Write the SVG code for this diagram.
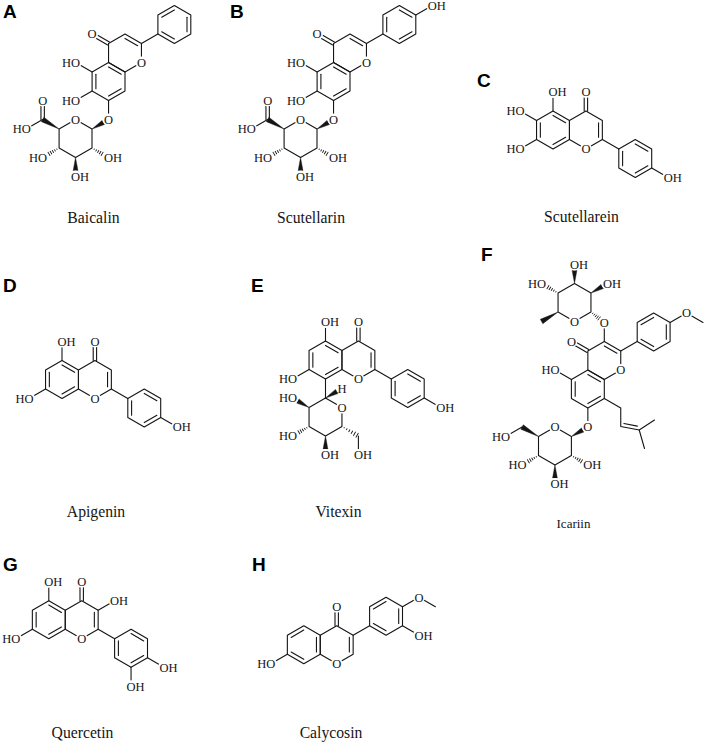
<svg xmlns="http://www.w3.org/2000/svg" width="706" height="744" viewBox="0 0 706 744">
<style>
.bd{stroke:#151515;stroke-width:1.1;fill:none;stroke-linecap:round;stroke-linejoin:round}
.hs{stroke:#151515;stroke-width:0.9;fill:none}
.wd{fill:#151515;stroke:#151515;stroke-width:0.4;stroke-linejoin:round}
.m{fill:#fff}
.at{font-family:"Liberation Serif","Times New Roman",serif;font-size:12.5px;fill:#151515}
.s{text-anchor:start}
.e{text-anchor:end}
.c{text-anchor:middle}
.nm{font-family:"Liberation Serif","Times New Roman",serif;font-size:15.7px;fill:#151515;text-anchor:middle}
.lt{font-family:"Liberation Sans",Arial,sans-serif;font-weight:bold;font-size:19px;fill:#000}
</style>
<defs>
<polygon id="hex" class="bd" points="0,-19 16.45,-9.5 16.45,9.5 0,19 -16.45,9.5 -16.45,-9.5"/>
<line id="b" class="bd" x1="0" y1="0" x2="19" y2="0"/>
<line id="d01" class="bd" x1="0" y1="-14.6" x2="12.65" y2="-7.3"/>
<line id="d12" class="bd" x1="12.65" y1="-7.3" x2="12.65" y2="7.3"/>
<line id="d23" class="bd" x1="12.65" y1="7.3" x2="0" y2="14.6"/>
<line id="d34" class="bd" x1="0" y1="14.6" x2="-12.65" y2="7.3"/>
<line id="d45" class="bd" x1="-12.65" y1="7.3" x2="-12.65" y2="-7.3"/>
<line id="d50" class="bd" x1="-12.65" y1="-7.3" x2="0" y2="-14.6"/>
<path id="dd" class="bd" d="M0,-1.7H19M0,1.7H19"/>
<polygon id="wO" class="wd" points="0,0 13,-2.4 13,2.4"/>
<polygon id="wC" class="wd" points="0,0 19,-2.5 19,2.5"/>
<path id="hO" class="hs" d="M2.5,-0.7V0.7M4.8,-1.1V1.1M7.1,-1.5V1.5M9.4,-1.9V1.9M11.7,-2.3V2.3"/>
<path id="hC" class="hs" d="M2.5,-0.6V0.6M5.5,-1V1M8.5,-1.4V1.4M11.5,-1.8V1.8M14.5,-2.2V2.2M17.5,-2.6V2.6"/>
</defs>
<rect width="706" height="744" fill="#fff"/>

<!-- Panel A: Baicalin -->
<g id="panel-A">
<text class="lt" x="3" y="17.5">A</text>
<g id="A-bonds">
<g transform="translate(125,53)"><use href="#hex"/><use href="#d01"/></g>
<g transform="translate(108.55,81.5)"><use href="#hex"/><use href="#d01"/><use href="#d23"/><use href="#d45"/></g>
<g transform="translate(174.35,24.5)"><use href="#hex"/><use href="#d50"/><use href="#d12"/><use href="#d34"/></g>
<use href="#hex" transform="translate(75.55,138.5)"/>
<use href="#dd" transform="translate(108.55,43.5) rotate(210)"/>
<use href="#b" transform="translate(141.45,43.5) rotate(-30)"/>
<use href="#b" transform="translate(92.1,72) rotate(210)"/>
<use href="#b" transform="translate(92.1,91) rotate(150)"/>
<use href="#b" transform="translate(108.55,100.5) rotate(90)"/>
<use href="#wO" transform="translate(92,129) rotate(-30)"/>
<use href="#hO" transform="translate(92,148) rotate(30)"/>
<use href="#wO" transform="translate(75.55,157.5) rotate(90)"/>
<use href="#hO" transform="translate(59.1,148) rotate(150)"/>
<use href="#wC" transform="translate(59.1,129) rotate(210)"/>
<use href="#dd" transform="translate(42.65,119.5) rotate(270)"/>
<use href="#b" transform="translate(42.65,119.5) rotate(150)"/>
</g>
<g id="A-atoms">
<circle class="m" cx="92.1" cy="34" r="6"/><text class="at c" x="92.1" y="38.3">O</text>
<circle class="m" cx="75.65" cy="62.5" r="6"/><text class="at e" x="80.15" y="66.8">HO</text>
<circle class="m" cx="75.65" cy="100.5" r="6"/><text class="at e" x="80.15" y="104.8">HO</text>
<circle class="m" cx="141.45" cy="62.5" r="6"/><text class="at c" x="141.45" y="66.8">O</text>
<circle class="m" cx="108.55" cy="119.5" r="6"/><text class="at c" x="108.55" y="123.8">O</text>
<circle class="m" cx="75.55" cy="119.5" r="6"/><text class="at c" x="75.55" y="123.8">O</text>
<circle class="m" cx="108.45" cy="157.5" r="6"/><text class="at s" x="103.95" y="161.8">OH</text>
<circle class="m" cx="75.55" cy="176.5" r="6"/><text class="at s" x="71.05" y="180.8">OH</text>
<circle class="m" cx="42.65" cy="157.5" r="6"/><text class="at e" x="47.15" y="161.8">HO</text>
<circle class="m" cx="42.65" cy="100.5" r="6"/><text class="at c" x="42.65" y="104.8">O</text>
<circle class="m" cx="26.2" cy="129" r="6"/><text class="at e" x="30.7" y="133.3">HO</text>
</g>
<text class="nm" x="93.5" y="222.5">Baicalin</text>
</g>

<!-- Panel B: Scutellarin -->
<g id="panel-B" transform="translate(225,0)">
<text class="lt" x="5" y="17.5">B</text>
<g id="B-bonds">
<g transform="translate(125,53)"><use href="#hex"/><use href="#d01"/></g>
<g transform="translate(108.55,81.5)"><use href="#hex"/><use href="#d01"/><use href="#d23"/><use href="#d45"/></g>
<g transform="translate(174.35,24.5)"><use href="#hex"/><use href="#d45"/><use href="#d01"/><use href="#d23"/></g>
<use href="#hex" transform="translate(75.55,138.5)"/>
<use href="#dd" transform="translate(108.55,43.5) rotate(210)"/>
<use href="#b" transform="translate(141.45,43.5) rotate(-30)"/>
<use href="#b" transform="translate(190.8,15) rotate(-30)"/>
<use href="#b" transform="translate(92.1,72) rotate(210)"/>
<use href="#b" transform="translate(92.1,91) rotate(150)"/>
<use href="#b" transform="translate(108.55,100.5) rotate(90)"/>
<use href="#wO" transform="translate(92,129) rotate(-30)"/>
<use href="#hO" transform="translate(92,148) rotate(30)"/>
<use href="#wO" transform="translate(75.55,157.5) rotate(90)"/>
<use href="#hO" transform="translate(59.1,148) rotate(150)"/>
<use href="#wC" transform="translate(59.1,129) rotate(210)"/>
<use href="#dd" transform="translate(42.65,119.5) rotate(270)"/>
<use href="#b" transform="translate(42.65,119.5) rotate(150)"/>
</g>
<g id="B-atoms">
<circle class="m" cx="207.25" cy="5.5" r="6"/><text class="at s" x="202.75" y="9.8">OH</text>
<circle class="m" cx="92.1" cy="34" r="6"/><text class="at c" x="92.1" y="38.3">O</text>
<circle class="m" cx="75.65" cy="62.5" r="6"/><text class="at e" x="80.15" y="66.8">HO</text>
<circle class="m" cx="75.65" cy="100.5" r="6"/><text class="at e" x="80.15" y="104.8">HO</text>
<circle class="m" cx="141.45" cy="62.5" r="6"/><text class="at c" x="141.45" y="66.8">O</text>
<circle class="m" cx="108.55" cy="119.5" r="6"/><text class="at c" x="108.55" y="123.8">O</text>
<circle class="m" cx="75.55" cy="119.5" r="6"/><text class="at c" x="75.55" y="123.8">O</text>
<circle class="m" cx="108.45" cy="157.5" r="6"/><text class="at s" x="103.95" y="161.8">OH</text>
<circle class="m" cx="75.55" cy="176.5" r="6"/><text class="at s" x="71.05" y="180.8">OH</text>
<circle class="m" cx="42.65" cy="157.5" r="6"/><text class="at e" x="47.15" y="161.8">HO</text>
<circle class="m" cx="42.65" cy="100.5" r="6"/><text class="at c" x="42.65" y="104.8">O</text>
<circle class="m" cx="26.2" cy="129" r="6"/><text class="at e" x="30.7" y="133.3">HO</text>
</g>
<text class="nm" x="86" y="222.5">Scutellarin</text>
</g>

<!-- Panel C: Scutellarein -->
<g id="panel-C">
<text class="lt" x="477" y="87">C</text>
<g id="C-bonds">
<g transform="translate(553,130)"><use href="#hex"/><use href="#d45"/><use href="#d01"/><use href="#d23"/></g>
<g transform="translate(585.9,130)"><use href="#hex"/><use href="#d12"/></g>
<g transform="translate(635.25,158.5)"><use href="#hex"/><use href="#d01"/><use href="#d23"/><use href="#d45"/></g>
<use href="#b" transform="translate(553,111) rotate(270)"/>
<use href="#dd" transform="translate(585.9,111) rotate(270)"/>
<use href="#b" transform="translate(536.55,120.5) rotate(210)"/>
<use href="#b" transform="translate(536.55,139.5) rotate(150)"/>
<use href="#b" transform="translate(602.35,139.5) rotate(30)"/>
<use href="#b" transform="translate(651.7,168) rotate(30)"/>
</g>
<g id="C-atoms">
<circle class="m" cx="553" cy="92" r="6"/><text class="at s" x="548.5" y="96.3">OH</text>
<circle class="m" cx="585.9" cy="92" r="6"/><text class="at c" x="585.9" y="96.3">O</text>
<circle class="m" cx="520.1" cy="111" r="6"/><text class="at e" x="524.6" y="115.3">HO</text>
<circle class="m" cx="520.1" cy="149" r="6"/><text class="at e" x="524.6" y="153.3">HO</text>
<circle class="m" cx="585.9" cy="149" r="6"/><text class="at c" x="585.9" y="153.3">O</text>
<circle class="m" cx="668.15" cy="177.5" r="6"/><text class="at s" x="663.65" y="181.8">OH</text>
</g>
<text class="nm" x="581.5" y="222">Scutellarein</text>
</g>

<!-- Panel D: Apigenin -->
<g id="panel-D">
<text class="lt" x="3" y="291.5">D</text>
<g id="D-bonds">
<g transform="translate(62,379.5)"><use href="#hex"/><use href="#d45"/><use href="#d01"/><use href="#d23"/></g>
<g transform="translate(94.9,379.5)"><use href="#hex"/><use href="#d12"/></g>
<g transform="translate(144.25,408)"><use href="#hex"/><use href="#d01"/><use href="#d23"/><use href="#d45"/></g>
<use href="#b" transform="translate(62,360.5) rotate(270)"/>
<use href="#dd" transform="translate(94.9,360.5) rotate(270)"/>
<use href="#b" transform="translate(45.55,389) rotate(150)"/>
<use href="#b" transform="translate(111.35,389) rotate(30)"/>
<use href="#b" transform="translate(160.7,417.5) rotate(30)"/>
</g>
<g id="D-atoms">
<circle class="m" cx="62" cy="341.5" r="6"/><text class="at s" x="57.5" y="345.8">OH</text>
<circle class="m" cx="94.9" cy="341.5" r="6"/><text class="at c" x="94.9" y="345.8">O</text>
<circle class="m" cx="29.1" cy="398.5" r="6"/><text class="at e" x="33.6" y="402.8">HO</text>
<circle class="m" cx="94.9" cy="398.5" r="6"/><text class="at c" x="94.9" y="402.8">O</text>
<circle class="m" cx="177.15" cy="427" r="6"/><text class="at s" x="172.65" y="431.3">OH</text>
</g>
<text class="nm" x="96" y="517">Apigenin</text>
</g>

<!-- Panel E: Vitexin -->
<g id="panel-E">
<text class="lt" x="251" y="291.5">E</text>
<g id="E-bonds">
<g transform="translate(325.5,360)"><use href="#hex"/><use href="#d45"/><use href="#d01"/><use href="#d23"/></g>
<g transform="translate(358.4,360)"><use href="#hex"/><use href="#d12"/></g>
<g transform="translate(407.75,388.5)"><use href="#hex"/><use href="#d01"/><use href="#d23"/><use href="#d45"/></g>
<use href="#hex" transform="translate(325.5,417)"/>
<use href="#b" transform="translate(325.5,341) rotate(270)"/>
<use href="#dd" transform="translate(358.4,341) rotate(270)"/>
<use href="#b" transform="translate(309.05,369.5) rotate(150)"/>
<use href="#b" transform="translate(325.5,379) rotate(90)"/>
<use href="#b" transform="translate(374.85,369.5) rotate(30)"/>
<use href="#b" transform="translate(424.2,398) rotate(30)"/>
<use href="#wO" transform="translate(325.5,398) rotate(-30)"/>
<use href="#wO" transform="translate(309.05,407.5) rotate(210)"/>
<use href="#hO" transform="translate(309.05,426.5) rotate(150)"/>
<use href="#wO" transform="translate(325.5,436) rotate(90)"/>
<use href="#hC" transform="translate(341.95,426.5) rotate(30)"/>
<use href="#b" transform="translate(358.4,436) rotate(90)"/>
</g>
<g id="E-atoms">
<circle class="m" cx="325.5" cy="322" r="6"/><text class="at s" x="321" y="326.3">OH</text>
<circle class="m" cx="358.4" cy="322" r="6"/><text class="at c" x="358.4" y="326.3">O</text>
<circle class="m" cx="292.6" cy="379" r="6"/><text class="at e" x="297.1" y="383.3">HO</text>
<circle class="m" cx="358.4" cy="379" r="6"/><text class="at c" x="358.4" y="383.3">O</text>
<circle class="m" cx="341.95" cy="388.5" r="5.5"/><text class="at c" x="341.95" y="392.8">H</text>
<circle class="m" cx="341.95" cy="407.5" r="6"/><text class="at c" x="341.95" y="411.8">O</text>
<circle class="m" cx="292.6" cy="398" r="6"/><text class="at e" x="297.1" y="402.3">HO</text>
<circle class="m" cx="292.6" cy="436" r="6"/><text class="at e" x="297.1" y="440.3">HO</text>
<circle class="m" cx="325.5" cy="455" r="6"/><text class="at s" x="321" y="459.3">OH</text>
<circle class="m" cx="358.4" cy="455" r="6"/><text class="at s" x="353.9" y="459.3">OH</text>
<circle class="m" cx="440.65" cy="407.5" r="6"/><text class="at s" x="436.15" y="411.8">OH</text>
</g>
<text class="nm" x="338.5" y="517">Vitexin</text>
</g>

<!-- Panel F: Icariin -->
<g id="panel-F">
<text class="lt" x="481" y="261">F</text>
<g id="F-bonds">
<g transform="translate(604.3,360.5)"><use href="#hex"/><use href="#d01"/></g>
<g transform="translate(587.85,389)"><use href="#hex"/><use href="#d01"/><use href="#d23"/><use href="#d45"/></g>
<g transform="translate(653.65,332)"><use href="#hex"/><use href="#d50"/><use href="#d12"/><use href="#d34"/></g>
<use href="#hex" transform="translate(574.5,302.5)"/>
<use href="#hex" transform="translate(554.95,446)"/>
<use href="#dd" transform="translate(587.85,351) rotate(210)"/>
<use href="#b" transform="translate(604.3,341.5) rotate(270)"/>
<use href="#hO" transform="translate(590.95,312) rotate(38.2) scale(0.89,1)"/>
<use href="#wO" transform="translate(590.95,293) rotate(-30)"/>
<use href="#wO" transform="translate(574.5,283.5) rotate(270)"/>
<use href="#hO" transform="translate(558.05,293) rotate(210)"/>
<use href="#wC" transform="translate(558.05,312) rotate(150)"/>
<use href="#b" transform="translate(620.75,351) rotate(-30)"/>
<use href="#b" transform="translate(670.1,322.5) rotate(-30)"/>
<use href="#b" transform="translate(686.55,313) rotate(30)"/>
<use href="#b" transform="translate(571.4,379.5) rotate(210)"/>
<use href="#b" transform="translate(587.85,408) rotate(90)"/>
<polyline class="bd" points="604.3,398.5 620.75,408 620.75,426.5 639.2,430 654.5,420"/>
<line class="bd" x1="639.2" y1="430" x2="644.5" y2="448.5"/>
<line class="bd" x1="623.9" y1="423.5" x2="637.4" y2="426.1"/>
<use href="#wO" transform="translate(571.4,436.5) rotate(-30)"/>
<use href="#hO" transform="translate(571.4,455.5) rotate(30)"/>
<use href="#wO" transform="translate(554.95,465) rotate(90)"/>
<use href="#hO" transform="translate(538.5,455.5) rotate(150)"/>
<use href="#wC" transform="translate(538.5,436.5) rotate(210)"/>
<use href="#b" transform="translate(522.05,427) rotate(150)"/>
</g>
<g id="F-atoms">
<circle class="m" cx="574.5" cy="264.5" r="6"/><text class="at s" x="570" y="268.8">OH</text>
<circle class="m" cx="541.6" cy="283.5" r="6"/><text class="at e" x="546.1" y="287.8">HO</text>
<circle class="m" cx="607.4" cy="283.5" r="6"/><text class="at s" x="602.9" y="287.8">OH</text>
<circle class="m" cx="574.5" cy="321.5" r="6"/><text class="at c" x="574.5" y="325.8">O</text>
<circle class="m" cx="604.3" cy="322.5" r="6"/><text class="at c" x="604.3" y="326.8">O</text>
<circle class="m" cx="571.4" cy="341.5" r="6"/><text class="at c" x="571.4" y="345.8">O</text>
<circle class="m" cx="620.75" cy="370" r="6"/><text class="at c" x="620.75" y="374.3">O</text>
<circle class="m" cx="686.55" cy="313" r="6"/><text class="at c" x="686.55" y="317.3">O</text>
<circle class="m" cx="554.95" cy="370" r="6"/><text class="at e" x="559.45" y="374.3">HO</text>
<circle class="m" cx="587.85" cy="427" r="6"/><text class="at c" x="587.85" y="431.3">O</text>
<circle class="m" cx="554.95" cy="427" r="6"/><text class="at c" x="554.95" y="431.3">O</text>
<circle class="m" cx="505.6" cy="436.5" r="6"/><text class="at e" x="510.1" y="440.8">HO</text>
<circle class="m" cx="522.05" cy="465" r="6"/><text class="at e" x="526.55" y="469.3">HO</text>
<circle class="m" cx="587.85" cy="465" r="6"/><text class="at s" x="583.35" y="469.3">OH</text>
<circle class="m" cx="554.95" cy="484" r="6"/><text class="at s" x="550.45" y="488.3">OH</text>
</g>
<text class="nm" x="573.5" y="528" style="font-size:13px">Icariin</text>
</g>

<!-- Panel G: Quercetin -->
<g id="panel-G">
<text class="lt" x="3" y="570.5">G</text>
<g id="G-bonds">
<g transform="translate(48.8,619.7)"><use href="#hex"/><use href="#d45"/><use href="#d01"/><use href="#d23"/></g>
<g transform="translate(81.7,619.7)"><use href="#hex"/><use href="#d12"/></g>
<g transform="translate(131.05,648.2)"><use href="#hex"/><use href="#d01"/><use href="#d23"/><use href="#d45"/></g>
<use href="#b" transform="translate(48.8,600.7) rotate(270)"/>
<use href="#dd" transform="translate(81.7,600.7) rotate(270)"/>
<use href="#b" transform="translate(98.15,610.2) rotate(-30)"/>
<use href="#b" transform="translate(32.35,629.2) rotate(150)"/>
<use href="#b" transform="translate(98.15,629.2) rotate(30)"/>
<use href="#b" transform="translate(147.5,657.7) rotate(30)"/>
<use href="#b" transform="translate(131.05,667.2) rotate(90)"/>
</g>
<g id="G-atoms">
<circle class="m" cx="48.8" cy="581.7" r="6"/><text class="at s" x="44.3" y="586">OH</text>
<circle class="m" cx="81.7" cy="581.7" r="6"/><text class="at c" x="81.7" y="586">O</text>
<circle class="m" cx="114.6" cy="600.7" r="6"/><text class="at s" x="110.1" y="605">OH</text>
<circle class="m" cx="15.9" cy="638.7" r="6"/><text class="at e" x="20.4" y="643">HO</text>
<circle class="m" cx="81.7" cy="638.7" r="6"/><text class="at c" x="81.7" y="643">O</text>
<circle class="m" cx="163.95" cy="667.2" r="6"/><text class="at s" x="159.45" y="671.5">OH</text>
<circle class="m" cx="131.05" cy="686.2" r="6"/><text class="at s" x="126.55" y="690.5">OH</text>
</g>
<text class="nm" x="82.5" y="738">Quercetin</text>
</g>

<!-- Panel H: Calycosin -->
<g id="panel-H">
<text class="lt" x="252" y="570.5">H</text>
<g id="H-bonds">
<g transform="translate(303.8,644.7)"><use href="#hex"/><use href="#d50"/><use href="#d12"/><use href="#d34"/></g>
<g transform="translate(336.7,644.7)"><use href="#hex"/><use href="#d12"/></g>
<g transform="translate(386.05,616.2)"><use href="#hex"/><use href="#d50"/><use href="#d12"/><use href="#d34"/></g>
<use href="#dd" transform="translate(336.7,625.7) rotate(270)"/>
<use href="#b" transform="translate(287.35,654.2) rotate(150)"/>
<use href="#b" transform="translate(353.15,635.2) rotate(-30)"/>
<use href="#b" transform="translate(402.5,606.7) rotate(-30)"/>
<use href="#b" transform="translate(418.95,597.2) rotate(30)"/>
<use href="#b" transform="translate(402.5,625.7) rotate(30)"/>
</g>
<g id="H-atoms">
<circle class="m" cx="336.7" cy="606.7" r="6"/><text class="at c" x="336.7" y="611">O</text>
<circle class="m" cx="270.9" cy="663.7" r="6"/><text class="at e" x="275.4" y="668">HO</text>
<circle class="m" cx="336.7" cy="663.7" r="6"/><text class="at c" x="336.7" y="668">O</text>
<circle class="m" cx="418.95" cy="597.2" r="6"/><text class="at c" x="418.95" y="601.5">O</text>
<circle class="m" cx="418.95" cy="635.2" r="6"/><text class="at s" x="414.45" y="639.5">OH</text>
</g>
<text class="nm" x="331" y="738">Calycosin</text>
</g>
</svg>
